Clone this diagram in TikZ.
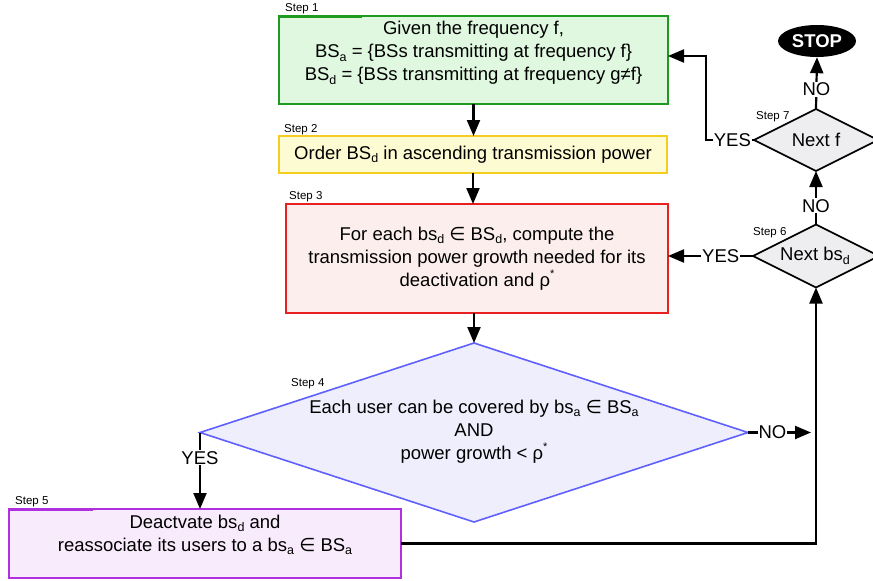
\documentclass[tikz,border=0pt]{standalone}
\usepackage{fontspec}
\setmainfont{Liberation Sans}
\newfontfamily\symfont{DejaVu Sans}
\usetikzlibrary{shapes.geometric,arrows.meta}

\definecolor{grnline}{HTML}{1E9A1E}
\definecolor{grnfill}{HTML}{E0F8E0}
\definecolor{ylwline}{HTML}{F5CC20}
\definecolor{ylwfill}{HTML}{FDFBD2}
\definecolor{redline}{HTML}{E82020}
\definecolor{redfill}{HTML}{FDEEEE}
\definecolor{bluline}{HTML}{6060FF}
\definecolor{blufill}{HTML}{EEEEFC}
\definecolor{purline}{HTML}{B030E0}
\definecolor{purfill}{HTML}{F8ECFC}
\definecolor{decfill}{HTML}{EEEEF0}

% small raised / lowered indices in text
\newcommand\lsub[1]{\raisebox{-0.35ex}{\fontsize{12.5}{12.5}\selectfont #1}}
\newcommand\lsup[1]{\raisebox{0.95ex}{\fontsize{11}{11}\selectfont #1}}
\newcommand\elem{{\symfont ∈}}

\begin{document}
\begin{tikzpicture}[x=1pt,y=-1pt,
  box/.style={draw, line width=1.6pt, inner sep=0pt, outer sep=0pt},
  body/.style={font=\fontsize{18.5}{23}\selectfont, align=center, inner sep=0pt},
  steplbl/.style={font=\fontsize{11.5}{12}\selectfont, anchor=west, inner sep=0pt},
  decide/.style={diamond, draw=black, line width=1.6pt, fill=decfill, inner sep=0pt, outer sep=0pt},
  flow/.style={line width=2.2pt, -{Triangle[length=16pt,width=13pt]}},
  lbl/.style={fill=white, inner sep=1pt, font=\fontsize{18.5}{23}\selectfont}]
\useasboundingbox (0,0) rectangle (873,581);
\clip (0,0) rectangle (873,581);

% Step 1
\node[box, draw=grnline, fill=grnfill, minimum width=389pt, minimum height=88pt] (s1) at (473.5,60) {};
\draw[grnline, line width=3pt] (s1.north west) -- ++(83,0);
\node[body] (t1) at (473.5,53) {Given the frequency f,\\
  BS\lsub{a} = \{BSs transmitting at frequency f\}\\
  BS\lsub{d} = \{BSs transmitting at frequency g≠f\}};
\node[steplbl] (l1) at (285,9) {Step 1};

% Step 2
\node[box, draw=ylwline, fill=ylwfill, minimum width=388pt, minimum height=37pt, body] (s2) at (473,154.5)
  {Order BS\lsub{d} in ascending transmission power};
\node[steplbl] (l2) at (284,130) {Step 2};

% Step 3
\node[box, draw=redline, fill=redfill, minimum width=382pt, minimum height=109pt, body] (s3) at (477,258.5)
  {For each bs\lsub{d} \elem{} BS\lsub{d}, compute the\\
   transmission power growth needed for its\\
   deactivation and ρ\lsup{*}};
\node[steplbl] (l3) at (289,197) {Step 3};

% Step 4
\node[decide, draw=bluline, fill=blufill, minimum width=548pt, minimum height=179pt] (d4) at (474,432.5) {};
\node[body] (t4) at (474,431.5) {Each user can be covered by bs\lsub{a} \elem{} BS\lsub{a}\\
  AND\\ power growth < ρ\lsup{*}};
\node[steplbl] (l4) at (291,384) {Step 4};

% Step 5
\node[box, draw=purline, fill=purfill, minimum width=392pt, minimum height=69pt] (s5) at (205,543.5) {};
\draw[purline, line width=3pt] (s5.north west) -- ++(84,0);
\node[body] (t5) at (205,535) {Deactvate bs\lsub{d} and\\
  reassociate its users to a bs\lsub{a} \elem{} BS\lsub{a}};
\node[steplbl] (l5) at (15,502) {Step 5};

% Step 6
\node[decide, minimum width=126pt, minimum height=63pt] (d6) at (816,256) {};
\node[body] (t6) at (815,256) {Next bs\lsub{d}};
\node[steplbl] (l6) at (753,233) {Step 6};

% Step 7
\node[decide, minimum width=124pt, minimum height=62pt] (d7) at (816,140) {};
\node[body] (t7) at (816,140) {Next f};
\node[steplbl] (l7) at (756,117) {Step 7};

% Stop
\node[ellipse, fill=black, inner sep=0pt, minimum width=78pt, minimum height=32pt,
  text=white, font=\fontsize{18.5}{23}\selectfont\bfseries] (stop) at (817,41) {STOP};

% Connectors
\draw[flow] (s1.south) -- (s1.south |- s2.north);
\draw[flow] (s2.south) -- (s2.south |- s3.north);
\draw[flow] (s3.south -| d4.north) -- (d4.north);
\draw[flow] (d4.west) -- node[lbl, pos=0.33] {YES} (d4.west |- s5.north);
\draw[flow, shorten >=5pt] (d4.east) -- node[lbl, pos=0.36] {NO} (d4.east -| d6.south);
\draw[flow] (s5.east) -| (d6.south);
\draw[flow] (d6.west) -- node[lbl, pos=0.38] {YES} (d6.west -| s3.east);
\draw[flow] (d6.north) -- node[lbl, pos=0.35] {NO} (d7.south);
\draw[flow] (d7.west) -- node[lbl, pos=0.45] {YES} ++(-48,0) |- ([yshift=4pt]s1.east);
\draw[flow] (d7.north) -- node[lbl, pos=0.38] {NO} (stop.south);
\end{tikzpicture}
\end{document}
